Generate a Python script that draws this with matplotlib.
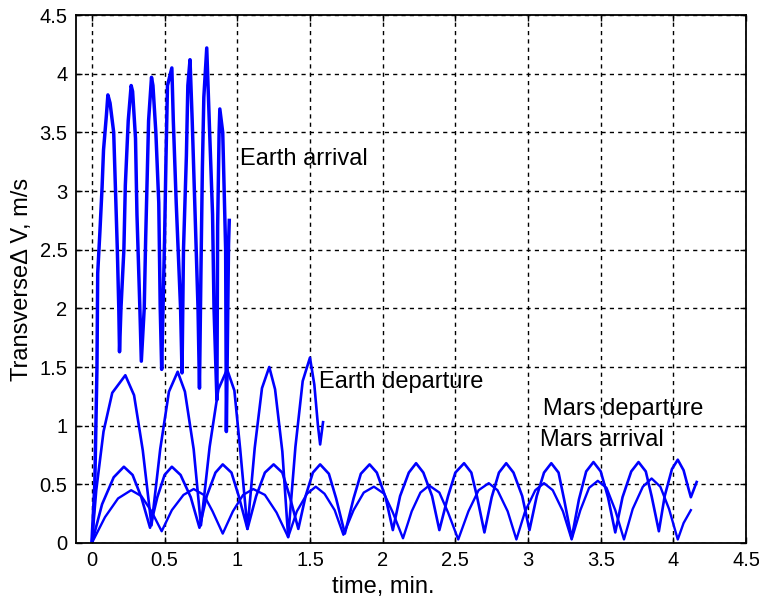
import matplotlib
matplotlib.use("Agg")
import matplotlib.pyplot as plt
from matplotlib.ticker import FuncFormatter

plt.rcParams['font.family'] = ['Liberation Sans', 'DejaVu Sans']

# Earth arrival (large oscillations, first minute)
earth_arr_t = [0, 0.02, 0.035, 0.04, 0.055, 0.07, 0.08, 0.10, 0.11, 0.125, 0.15, 0.16, 0.175, 0.185,
               0.19, 0.20, 0.22, 0.23, 0.25, 0.27, 0.28, 0.30, 0.31, 0.33, 0.34, 0.36, 0.37, 0.38,
               0.39, 0.41, 0.42, 0.44, 0.46, 0.47, 0.48, 0.50, 0.51, 0.52, 0.55, 0.56, 0.58, 0.61,
               0.62, 0.63, 0.65, 0.66, 0.675, 0.69, 0.71, 0.73, 0.74, 0.75, 0.76, 0.77, 0.79, 0.81,
               0.83, 0.84, 0.86, 0.865, 0.875, 0.88, 0.90, 0.92, 0.925, 0.94, 0.945]
earth_arr_v = [0, 0.5, 1.5, 2.3, 2.65, 3.03, 3.35, 3.65, 3.82, 3.75, 3.5, 3.1, 2.5, 2.0,
               1.63, 2.0, 2.5, 3.05, 3.6, 3.9, 3.85, 3.45, 2.8, 2.0, 1.55, 2.0, 2.6, 3.1,
               3.6, 3.97, 3.9, 3.5, 2.9, 2.0, 1.48, 2.6, 3.3, 3.9, 4.05, 3.6, 2.9, 2.0,
               1.45, 2.5, 3.3, 3.9, 4.12, 3.6, 2.8, 2.0, 1.32, 2.3, 3.2, 3.8, 4.22, 3.5,
               2.8, 2.0, 1.22, 2.7, 3.5, 3.7, 3.5, 2.5, 0.95, 2.55, 2.75]

# Earth departure
earth_dep_t = [0, 0.03, 0.08, 0.14, 0.23, 0.29, 0.35, 0.41, 0.47, 0.53, 0.59, 0.64, 0.70, 0.75,
               0.81, 0.87, 0.93, 0.98, 1.02, 1.07, 1.12, 1.17, 1.22, 1.26, 1.31, 1.35, 1.40,
               1.45, 1.50, 1.53, 1.555, 1.57, 1.59]
earth_dep_v = [0, 0.45, 0.95, 1.28, 1.43, 1.26, 0.79, 0.15, 0.80, 1.29, 1.46, 1.29, 0.80, 0.15,
               0.82, 1.31, 1.48, 1.30, 0.80, 0.12, 0.81, 1.32, 1.50, 1.31, 0.78, 0.05, 0.82,
               1.38, 1.58, 1.35, 1.0, 0.84, 1.03]

# Mars departure
mars_dep_t = [0, 0.07, 0.15, 0.22, 0.28, 0.34, 0.40, 0.45, 0.50, 0.55, 0.61, 0.68, 0.74, 0.79,
              0.85, 0.90, 0.96, 1.01, 1.07, 1.13, 1.19, 1.25, 1.31, 1.36, 1.42, 1.47, 1.52,
              1.57, 1.63, 1.68, 1.74, 1.80, 1.85, 1.91, 1.96, 2.02, 2.07, 2.12, 2.18, 2.23,
              2.28, 2.34, 2.39, 2.45, 2.50, 2.56, 2.61, 2.65, 2.70, 2.75, 2.80, 2.85, 2.90,
              2.96, 3.01, 3.06, 3.11, 3.16, 3.21, 3.25, 3.30, 3.35, 3.40, 3.45, 3.50, 3.55,
              3.60, 3.65, 3.71, 3.76, 3.81, 3.85, 3.90, 3.94, 3.99, 4.03, 4.07, 4.10, 4.12, 4.16]
mars_dep_v = [0, 0.33, 0.56, 0.65, 0.58, 0.39, 0.13, 0.39, 0.58, 0.65, 0.58, 0.39, 0.13, 0.40,
              0.60, 0.67, 0.60, 0.40, 0.12, 0.40, 0.60, 0.67, 0.60, 0.40, 0.12, 0.40, 0.60,
              0.67, 0.59, 0.38, 0.08, 0.38, 0.59, 0.67, 0.60, 0.39, 0.11, 0.40, 0.60, 0.68,
              0.60, 0.40, 0.11, 0.40, 0.60, 0.68, 0.60, 0.39, 0.09, 0.39, 0.60, 0.68, 0.60,
              0.40, 0.11, 0.40, 0.60, 0.68, 0.60, 0.36, 0.04, 0.37, 0.61, 0.69, 0.61, 0.39,
              0.09, 0.39, 0.61, 0.69, 0.61, 0.40, 0.10, 0.40, 0.63, 0.71, 0.62, 0.48, 0.39, 0.52]

# Mars arrival
mars_arr_t = [0, 0.09, 0.18, 0.27, 0.34, 0.41, 0.48, 0.55, 0.63, 0.70, 0.77, 0.83, 0.90, 0.97,
              1.04, 1.11, 1.19, 1.27, 1.35, 1.41, 1.48, 1.54, 1.60, 1.67, 1.73, 1.80, 1.87,
              1.94, 2.01, 2.07, 2.14, 2.20, 2.26, 2.32, 2.39, 2.45, 2.52, 2.59, 2.66, 2.73,
              2.79, 2.86, 2.92, 2.98, 3.05, 3.11, 3.17, 3.24, 3.30, 3.36, 3.42, 3.48, 3.54,
              3.60, 3.66, 3.72, 3.79, 3.85, 3.91, 3.97, 4.03, 4.07, 4.12]
mars_arr_v = [0, 0.22, 0.38, 0.45, 0.40, 0.27, 0.10, 0.28, 0.41, 0.46, 0.41, 0.27, 0.08, 0.27,
              0.41, 0.46, 0.41, 0.26, 0.05, 0.27, 0.42, 0.48, 0.42, 0.28, 0.07, 0.28, 0.43,
              0.48, 0.42, 0.26, 0.04, 0.27, 0.43, 0.49, 0.43, 0.26, 0.03, 0.27, 0.45, 0.51,
              0.45, 0.27, 0.03, 0.27, 0.45, 0.51, 0.45, 0.27, 0.03, 0.28, 0.47, 0.53, 0.47,
              0.28, 0.03, 0.29, 0.48, 0.55, 0.48, 0.29, 0.03, 0.17, 0.28]

xticks = [0, 0.5, 1, 1.5, 2, 2.5, 3, 3.5, 4, 4.5]
yticks = [0, 0.5, 1, 1.5, 2, 2.5, 3, 3.5, 4, 4.5]

fig = plt.figure(figsize=(7.59, 6.05), dpi=100)
ax = fig.add_axes([0.1, 0.1025, 0.883, 0.8725])

blue = '#0000ff'
ax.plot(mars_arr_t, mars_arr_v, color=blue, lw=1.7)
ax.plot(mars_dep_t, mars_dep_v, color=blue, lw=1.9)
ax.plot(earth_dep_t, earth_dep_v, color=blue, lw=1.9)
ax.plot(earth_arr_t, earth_arr_v, color=blue, lw=2.5)

ax.text(1.02, 3.27, 'Earth arrival', fontsize=17, va='center')
ax.text(1.56, 1.37, 'Earth departure', fontsize=17, va='center')
ax.text(3.1, 1.14, 'Mars departure', fontsize=17, va='center')
ax.text(3.08, 0.88, 'Mars arrival', fontsize=17, va='center')

ax.set_xlim(-0.11, 4.5)
ax.set_ylim(0, 4.5)
ax.set_xticks(xticks)
ax.set_yticks(yticks)
fmt = FuncFormatter(lambda v, p: '%g' % v)
ax.xaxis.set_major_formatter(fmt)
ax.yaxis.set_major_formatter(fmt)
ax.tick_params(direction='in', length=4, width=1, labelsize=14.5, top=True, right=True, pad=6)
ax.grid(True, color='black', linestyle=(0, (3, 3)), linewidth=1)
for s in ax.spines.values():
    s.set_linewidth(1.3)

ax.set_xlabel('time, min.', fontsize=17)
ax.xaxis.set_label_coords(0.458, -0.062)
ax.set_ylabel('Transverse\u0394 V, m/s', fontsize=17)
ax.yaxis.set_label_coords(-0.064, 0.5)

fig.savefig('out.png', dpi=100)
